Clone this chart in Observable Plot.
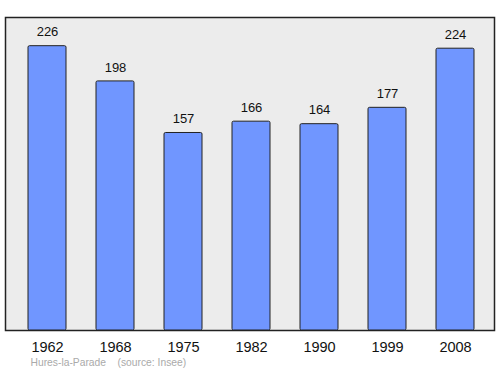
<!DOCTYPE html>
<html>
<head>
<meta charset="utf-8">
<script src="https://cdn.jsdelivr.net/npm/d3@7"></script>
<script src="https://cdn.jsdelivr.net/npm/@observablehq/plot@0.6"></script>
<style>
  html, body { margin: 0; padding: 0; background: #fff; }
</style>
</head>
<body>
<div id="chart"></div>
<script>
const years = ["1962", "1968", "1975", "1982", "1990", "1999", "2008"];
const population = [226, 198, 157, 166, 164, 177, 224];
const caption = "Hures-la-Parade    (source: Insee)";

const data = years.map((y, i) => ({year: y, pop: population[i]}));

const chart = Plot.plot({
  width: 500,
  height: 374,
  marginTop: 17,
  marginBottom: 44,
  marginLeft: 5,
  marginRight: 6,
  style: {fontFamily: "'Liberation Sans', Arial, sans-serif", background: "#fff"},
  x: {domain: years, range: [11.2, 490.2], paddingInner: 0.437, paddingOuter: 0.2185, label: null},
  y: {domain: [0, 248.8], axis: null},
  marks: [
    Plot.frame({fill: "#ececec", stroke: "#222", strokeWidth: 1.5}),
    Plot.barY(data, {x: "year", y: "pop", fill: "#7096ff", stroke: "#222", strokeWidth: 1, rx: 1.5}),
    Plot.text(data, {x: "year", y: "pop", text: d => String(d.pop), dy: -14, fontSize: 13, fill: "#111"}),
    Plot.axisX({tickSize: 0, tickPadding: 11, fontSize: 14.5, color: "#111", label: null}),
    Plot.text([caption], {frameAnchor: "bottom-left", text: d => d, dx: 25, dy: 35, textAnchor: "start", fontSize: 10.3, fill: "#aaa"})
  ]
});
document.getElementById("chart").appendChild(chart);
</script>
</body>
</html>
